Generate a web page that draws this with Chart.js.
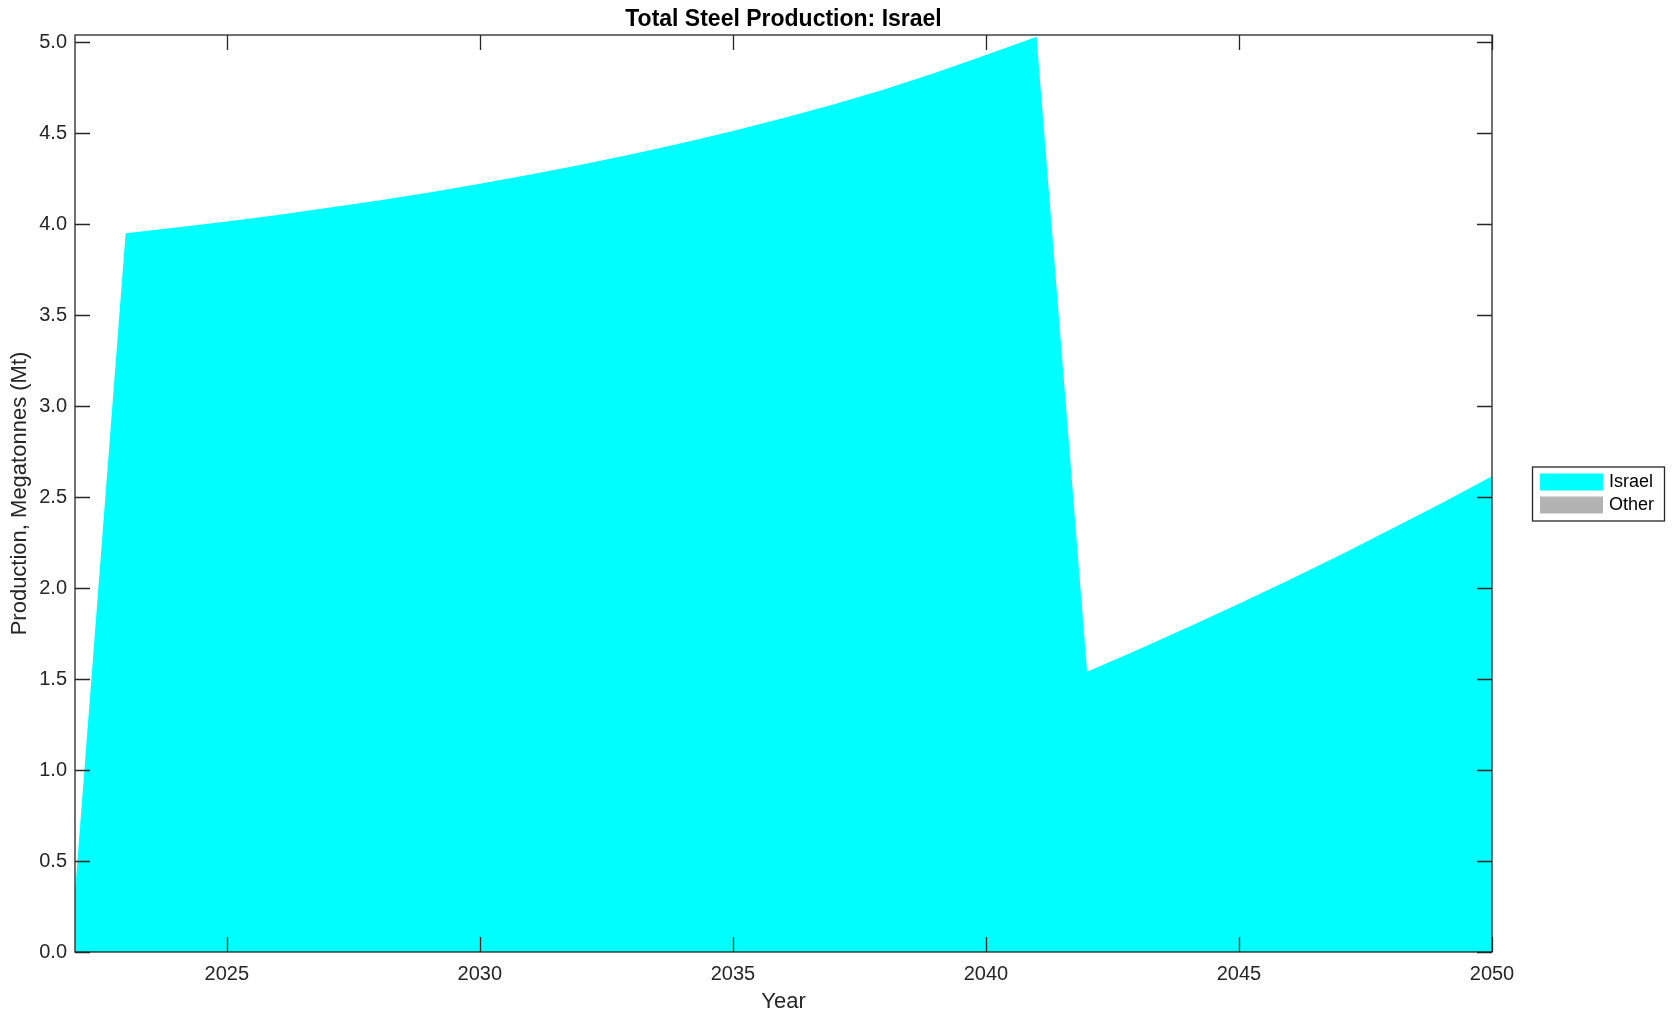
<!DOCTYPE html>
<html>
<head>
<meta charset="utf-8">
<script src="https://cdn.jsdelivr.net/npm/chart.js@4.4.1/dist/chart.umd.min.js"></script>
<style>
  html, body { margin: 0; padding: 0; background: #fff; }
  #wrap { width: 1675px; height: 1021px; }
</style>
</head>
<body>
<div id="wrap"><canvas id="chart"></canvas></div>
<script>
const years = [2022, 2023, 2024, 2025, 2026, 2027, 2028, 2029, 2030, 2031,
               2032, 2033, 2034, 2035, 2036, 2037, 2038, 2039, 2040, 2041,
               2042, 2043, 2044, 2045, 2046, 2047, 2048, 2049, 2050];
const israel = [0.33, 3.95, 3.982, 4.015, 4.051, 4.09, 4.131, 4.175, 4.223, 4.273,
                4.327, 4.385, 4.447, 4.513, 4.584, 4.66, 4.742, 4.833, 4.93, 5.03,
                1.54, 1.661, 1.786, 1.914, 2.046, 2.182, 2.323, 2.467, 2.615];
const other = [0, 0, 0, 0, 0, 0, 0, 0, 0, 0,
               0, 0, 0, 0, 0, 0, 0, 0, 0, 0,
               0, 0, 0, 0, 0, 0, 0, 0, 0];
const xTicks = [2025, 2030, 2035, 2040, 2045, 2050];
const yTicks = [0, 0.5, 1.0, 1.5, 2.0, 2.5, 3.0, 3.5, 4.0, 4.5, 5.0];

const axisColor = '#262626';
const fontFamily = '"Liberation Sans", Arial, Helvetica, sans-serif';

// caixa do eixo e marcas para dentro, estilo MATLAB
const boxTicks = {
  id: 'boxTicks',
  afterDraw(chart) {
    const {ctx, chartArea: a, scales: {x, y}} = chart;
    const len = 15;
    ctx.save();
    ctx.strokeStyle = axisColor;
    ctx.lineWidth = 1.3;
    ctx.beginPath();
    xTicks.forEach(v => {
      const px = Math.round(x.getPixelForValue(v)) + 0.5;
      ctx.moveTo(px, a.bottom); ctx.lineTo(px, a.bottom - len);
      ctx.moveTo(px, a.top); ctx.lineTo(px, a.top + len);
    });
    yTicks.forEach(v => {
      const py = Math.round(y.getPixelForValue(v)) + 0.5;
      ctx.moveTo(a.left, py); ctx.lineTo(a.left + len, py);
      ctx.moveTo(a.right, py); ctx.lineTo(a.right - len, py);
    });
    ctx.stroke();
    ctx.strokeRect(a.left, a.top, a.right - a.left, a.bottom - a.top);

    // título centrado na área do gráfico
    ctx.fillStyle = '#000';
    ctx.font = 'bold 23px ' + fontFamily;
    ctx.textAlign = 'center';
    ctx.textBaseline = 'middle';
    ctx.fillText('Total Steel Production: Israel', (a.left + a.right) / 2, 20);

    // legenda com moldura à direita
    const lx = a.right + 40, lw = 132, lh = 54;
    const ly = (a.top + a.bottom) / 2 - lh / 2;
    ctx.fillStyle = '#fff';
    ctx.fillRect(lx, ly, lw, lh);
    ctx.strokeRect(lx + 0.5, ly + 0.5, lw, lh);
    ctx.font = '18px ' + fontFamily;
    ctx.textAlign = 'left';
    chart.data.datasets.forEach((ds, i) => {
      const sy = ly + 7 + i * 23;
      ctx.fillStyle = ds.backgroundColor;
      ctx.fillRect(lx + 8, sy, 63, 17);
      ctx.fillStyle = '#000';
      ctx.fillText(ds.label, lx + 77, sy + 9);
    });
    ctx.restore();
  }
};

new Chart(document.getElementById('chart'), {
  type: 'line',
  data: {
    datasets: [
      {
        label: 'Israel',
        data: years.map((yr, i) => ({x: yr, y: israel[i]})),
        backgroundColor: '#00ffff',
        borderWidth: 0,
        pointRadius: 0,
        tension: 0,
        fill: 'origin'
      },
      {
        label: 'Other',
        data: years.map((yr, i) => ({x: yr, y: other[i]})),
        backgroundColor: '#b3b3b3',
        borderWidth: 0,
        pointRadius: 0,
        tension: 0,
        fill: '-1'
      }
    ]
  },
  options: {
    responsive: true,
    maintainAspectRatio: false,
    animation: false,
    layout: { padding: { left: 0, right: 183, top: 35, bottom: 0 } },
    plugins: {
      legend: { display: false },
      title: { display: false },
      tooltip: { enabled: false }
    },
    scales: {
      x: {
        type: 'linear',
        min: 2022,
        max: 2050,
        afterFit: s => { s.height = 69; },
        afterBuildTicks: s => { s.ticks = xTicks.map(v => ({value: v})); },
        grid: { display: false, drawTicks: false },
        border: { display: false },
        ticks: {
          color: axisColor,
          padding: 10,
          font: { family: fontFamily, size: 20 },
          callback: v => String(v)
        },
        title: {
          display: true,
          text: 'Year',
          color: axisColor,
          padding: { top: 0, bottom: 6 },
          font: { family: fontFamily, size: 22 }
        }
      },
      y: {
        stacked: true,
        min: 0,
        max: 5.04,
        afterFit: s => { s.width = 75; },
        afterBuildTicks: s => { s.ticks = yTicks.map(v => ({value: v})); },
        grid: { display: false, drawTicks: false },
        border: { display: false },
        ticks: {
          color: axisColor,
          padding: 8,
          font: { family: fontFamily, size: 20 },
          callback: v => v.toFixed(1)
        },
        title: {
          display: true,
          text: 'Production, Megatonnes (Mt)',
          color: axisColor,
          padding: { top: 7, bottom: 0 },
          font: { family: fontFamily, size: 22 }
        }
      }
    }
  },
  plugins: [boxTicks]
});
</script>
</body>
</html>
